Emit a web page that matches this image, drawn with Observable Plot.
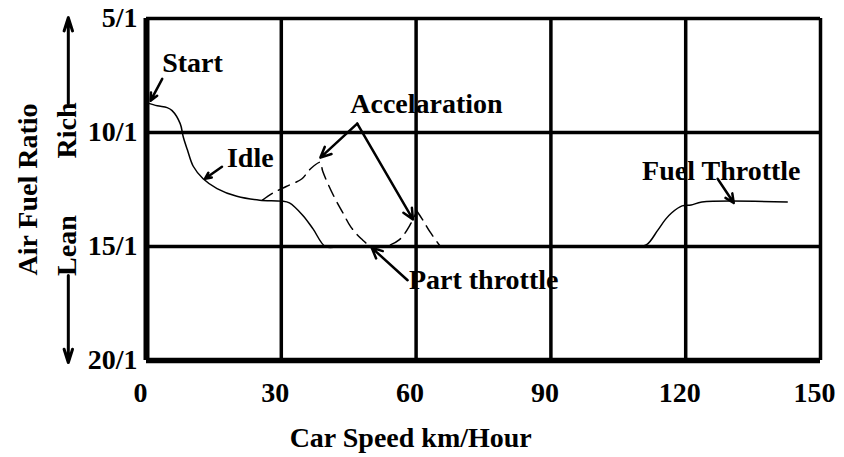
<!DOCTYPE html>
<html>
<head>
<meta charset="utf-8">
<script src="https://cdn.jsdelivr.net/npm/d3@7"></script>
<script src="https://cdn.jsdelivr.net/npm/@observablehq/plot@0.6"></script>
<style>
  html, body { margin: 0; padding: 0; background: #fff; }
</style>
</head>
<body>
<div id="chart"></div>
<script>
// ---- Data ----
const xTicks = [0, 30, 60, 90, 120, 150];
const yTicks = [5, 10, 15, 20];
const yTickLabels = ["5/1", "10/1", "15/1", "20/1"];
const gridX = [30, 60, 90, 120];
const gridY = [10, 15];

// Start / idle curve (solid)
const idleSpeed = [0.2, 2.4, 4.6, 5.7, 7.5, 8.2, 9.1, 10.4, 12.6, 15.7, 20.1, 25.2, 30.0, 31.8, 34.8, 37.1, 39.8, 42.6];
const idleRatio = [8.70, 8.83, 8.91, 9.04, 9.61, 10.21, 10.76, 11.48, 12.03, 12.46, 12.80, 12.97, 13.01, 13.09, 13.64, 14.24, 15.0, 15.0];

// Acceleration from idle, then part throttle (dashed)
const accelSpeed = [25.8, 28.0, 31.1, 34.6, 36.4, 38.7, 39.2, 41.7, 43.7, 45.5, 47.8, 50.1, 53.1, 56.3, 58.6, 60.0];
const accelRatio = [12.97, 12.67, 12.37, 12.03, 11.61, 11.31, 11.69, 12.80, 13.52, 14.15, 14.66, 15.0, 15.0, 14.70, 14.07, 13.52];

// Acceleration from part throttle at 60 (dashed)
const accel2Speed = [60.0, 61.4, 63.1, 65.4];
const accel2Ratio = [13.40, 13.81, 14.36, 15.0];

// Fuel throttle (solid)
const fuelSpeed = [108.8, 111.3, 113.8, 115.5, 116.9, 119.2, 121.2, 123.6, 142.6];
const fuelRatio = [15.0, 14.92, 14.28, 13.81, 13.52, 13.22, 13.18, 13.05, 13.05];

// Annotations
const noteText = ["Start", "Idle", "Accelaration", "Part throttle", "Fuel Throttle"];
const noteX = [3.5, 17.9, 62.3, 58.4, 110.3];
const noteY = [6.96, 11.1, 8.74, 16.48, 11.69];
const noteAnchor = ["start", "start", "middle", "start", "start"];

const arrowX1 = [3.5, 16.8, 46.9, 46.9, 58.1, 127.1];
const arrowY1 = [7.65, 11.5, 9.61, 9.61, 16.48, 12.03];
const arrowX2 = [0.9, 13.0, 38.7, 59.3, 50.1, 130.7];
const arrowY2 = [8.61, 12.03, 11.1, 13.81, 15.05, 13.09];

// Axis titles
const yTitle = "Air Fuel Ratio";
const xTitle = "Car Speed km/Hour";
const sideText = ["Rich", "Lean"];
const sideY = [9.91, 14.96];
const sideArrowY1 = [8.73, 16.27];
const sideArrowY2 = [4.96, 20.09];

// ---- Build tables ----
const zip = (xs, ys) => xs.map((x, i) => ({x, y: ys[i]}));
const idle = zip(idleSpeed, idleRatio);
const accel = zip(accelSpeed, accelRatio);
const accel2 = zip(accel2Speed, accel2Ratio);
const fuel = zip(fuelSpeed, fuelRatio);
const notes = noteText.map((t, i) => ({t, x: noteX[i], y: noteY[i], a: noteAnchor[i]}));
const arrows = arrowX1.map((x1, i) => ({x1, y1: arrowY1[i], x2: arrowX2[i], y2: arrowY2[i]}));
const sides = sideText.map((t, i) => ({t, y: sideY[i], y1: sideArrowY1[i], y2: sideArrowY2[i]}));

const font = "'Liberation Serif', 'Times New Roman', serif";
const FS = 28;

const chart = Plot.plot({
  width: 844,
  height: 457,
  marginLeft: 146,
  marginRight: 24,
  marginTop: 18,
  marginBottom: 97,
  x: {domain: [0, 150]},
  y: {domain: [5, 20], reverse: true},
  style: {fontFamily: font, fontSize: FS + "px", fontWeight: "bold", color: "#000", background: "#fff"},
  marks: [
    // grid
    Plot.ruleX(gridX, {stroke: "#000", strokeWidth: 3.5}),
    Plot.ruleY(gridY, {stroke: "#000", strokeWidth: 3.5}),
    // frame
    Plot.ruleY([5], {stroke: "#000", strokeWidth: 3.5}),
    Plot.ruleX([150], {stroke: "#000", strokeWidth: 3.5}),
    Plot.ruleX([0], {stroke: "#000", strokeWidth: 6}),
    Plot.ruleY([20], {stroke: "#000", strokeWidth: 5.5}),
    // axes
    Plot.axisX(xTicks, {tickSize: 0, tickPadding: 22, dx: -6, label: null, fontSize: FS}),
    Plot.axisY(yTicks, {tickSize: 0, tickPadding: 9, label: null, fontSize: FS,
      tickFormat: d => yTickLabels[yTicks.indexOf(d)]}),
    // curves
    Plot.line(idle, {x: "x", y: "y", stroke: "#000", strokeWidth: 1.5, curve: "catmull-rom"}),
    Plot.line(accel, {x: "x", y: "y", stroke: "#000", strokeWidth: 1.5, strokeDasharray: "12,7", curve: "catmull-rom"}),
    Plot.line(accel2, {x: "x", y: "y", stroke: "#000", strokeWidth: 1.5, strokeDasharray: "12,7", curve: "catmull-rom"}),
    Plot.line(fuel, {x: "x", y: "y", stroke: "#000", strokeWidth: 1.5, curve: "catmull-rom"}),
    // annotation arrows
    Plot.arrow(arrows, {x1: "x1", y1: "y1", x2: "x2", y2: "y2", stroke: "#000", strokeWidth: 2.5, headLength: 7, headAngle: 50}),
    Plot.text(notes.filter(d => d.a === "start"), {x: "x", y: "y", text: "t", textAnchor: "start", fill: "#000", fontSize: FS, fontWeight: "bold"}),
    Plot.text(notes.filter(d => d.a === "middle"), {x: "x", y: "y", text: "t", textAnchor: "middle", fill: "#000", fontSize: FS, fontWeight: "bold"}),
    // side arrows (Rich / Lean)
    Plot.arrow(sides, {x1: () => -17.4, x2: () => -17.4, y1: "y1", y2: "y2", stroke: "#000", strokeWidth: 3, headLength: 7, headAngle: 35}),
    Plot.text(sides, {x: () => -17.6, y: "y", text: "t", rotate: -90, fill: "#000", fontSize: FS, fontWeight: "bold"}),
    // axis titles
    Plot.text([yTitle], {x: () => -26.3, y: () => 12.5, text: d => d, rotate: -90, fill: "#000", fontSize: FS, fontWeight: "bold"}),
    Plot.text([xTitle], {x: () => 58.8, y: () => 23.38, text: d => d, fill: "#000", fontSize: FS, fontWeight: "bold"})
  ]
});
document.getElementById("chart").appendChild(chart);
</script>
</body>
</html>
